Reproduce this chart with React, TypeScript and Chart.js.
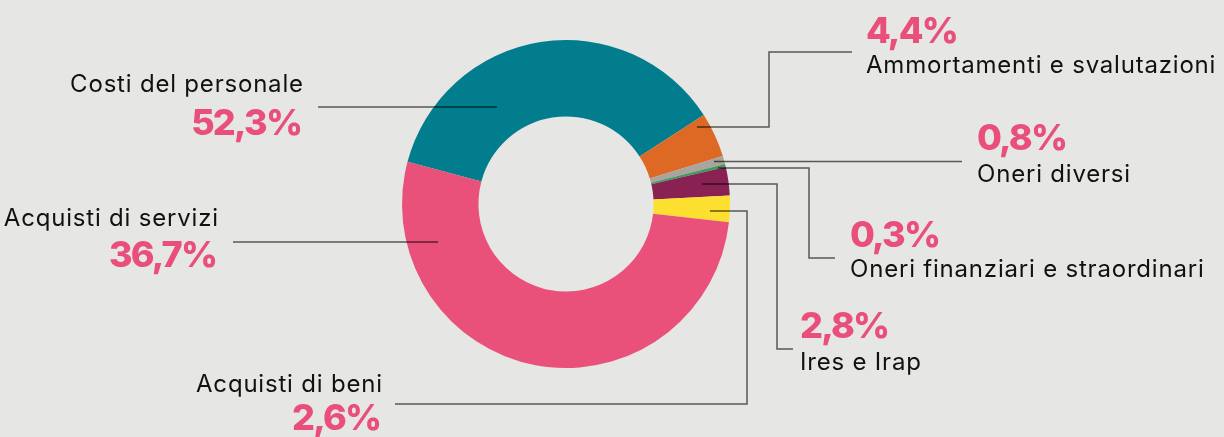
import React, { useEffect, useRef } from "react";
import { Chart, registerables } from "chart.js";

Chart.register(...registerables);

// ---- data ----
const categories = [
  "Costi del personale",
  "Ammortamenti e svalutazioni",
  "Oneri diversi",
  "Oneri finanziari e straordinari",
  "Ires e Irap",
  "Acquisti di beni",
  "Acquisti di servizi",
];
// slice sizes as drawn in the picture (%)
const sliceValues = [36.7, 4.4, 0.8, 0.3, 2.8, 2.6, 52.3];
// percentage texts as printed in the picture
const percentLabels = ["52,3%", "4,4%", "0,8%", "0,3%", "2,8%", "2,6%", "36,7%"];
const sliceColors = ["#027d8e", "#de6925", "#a9a59e", "#3b9d5e", "#8a2153", "#fde02f", "#e9517a"];

// ---- annotation layout (leader path, text anchor) ----
type Lay = { path: number[][]; x: number; name: number; pct: number; align: CanvasTextAlign };
const labelLayout: Lay[] = [
  { path: [[497, 107], [318, 107]], x: 303, name: 92, pct: 135, align: "right" },
  { path: [[697, 127], [769, 127], [769, 52], [852, 52]], x: 866, name: 73, pct: 43, align: "left" },
  { path: [[714, 161.5], [962, 161.5]], x: 977, name: 182, pct: 150, align: "left" },
  { path: [[718, 168], [809, 168], [809, 258], [835, 258]], x: 850, name: 277, pct: 247, align: "left" },
  { path: [[702, 184], [777, 184], [777, 349], [793, 349]], x: 800, name: 370, pct: 338, align: "left" },
  { path: [[710, 211], [747, 211], [747, 404], [395, 404]], x: 382, name: 392, pct: 430, align: "right" },
  { path: [[438, 242], [233, 242]], x: 218, name: 226, pct: 267, align: "right" },
];

const BG = "#e6e6e4";
const PINK = "#e94f7a";

const labelsPlugin = {
  id: "leaderLabels",
  afterDraw(chart: any) {
    const ctx: any = chart.ctx;
    ctx.save();
    ctx.strokeStyle = "rgba(0,0,0,0.62)";
    ctx.lineWidth = 1.5;
    labelLayout.forEach((l) => {
      ctx.beginPath();
      l.path.forEach((p, i) => (i === 0 ? ctx.moveTo(p[0], p[1]) : ctx.lineTo(p[0], p[1])));
      ctx.stroke();
    });
    ctx.textBaseline = "alphabetic";
    labelLayout.forEach((l, i) => {
      ctx.textAlign = l.align;
      const shift = l.align === "right" ? 1 : 0;
      ctx.fillStyle = "#111111";
      ctx.font = "400 24px Inter";
      ctx.letterSpacing = "0.8px";
      ctx.fillText(categories[i], l.x + shift * 0.8, l.name);
      ctx.fillStyle = PINK;
      ctx.font = "800 36px Inter";
      ctx.letterSpacing = "-1.8px";
      ctx.fillText(percentLabels[i], l.x - shift * 1.8, l.pct);
    });
    ctx.restore();
  },
};

export default function App() {
  const ref = useRef<HTMLCanvasElement | null>(null);
  useEffect(() => {
    document.body.style.margin = "0";
    document.body.style.background = BG;
    const chart = new Chart(ref.current as HTMLCanvasElement, {
      type: "doughnut",
      data: {
        labels: categories,
        datasets: [
          {
            data: sliceValues,
            backgroundColor: sliceColors,
            borderWidth: 0,
          },
        ],
      },
      options: {
        responsive: false,
        animation: false,
        rotation: -75.1,
        cutout: "53.4%",
        layout: { padding: { left: 402, right: 494, top: 40, bottom: 69 } },
        plugins: { legend: { display: false }, tooltip: { enabled: false } },
      },
      plugins: [labelsPlugin],
    });
    return () => chart.destroy();
  }, []);
  return (
    <div style={{ width: 1224, height: 437, background: BG }}>
      <canvas ref={ref} width={1224} height={437} style={{ display: "block" }} />
    </div>
  );
}
